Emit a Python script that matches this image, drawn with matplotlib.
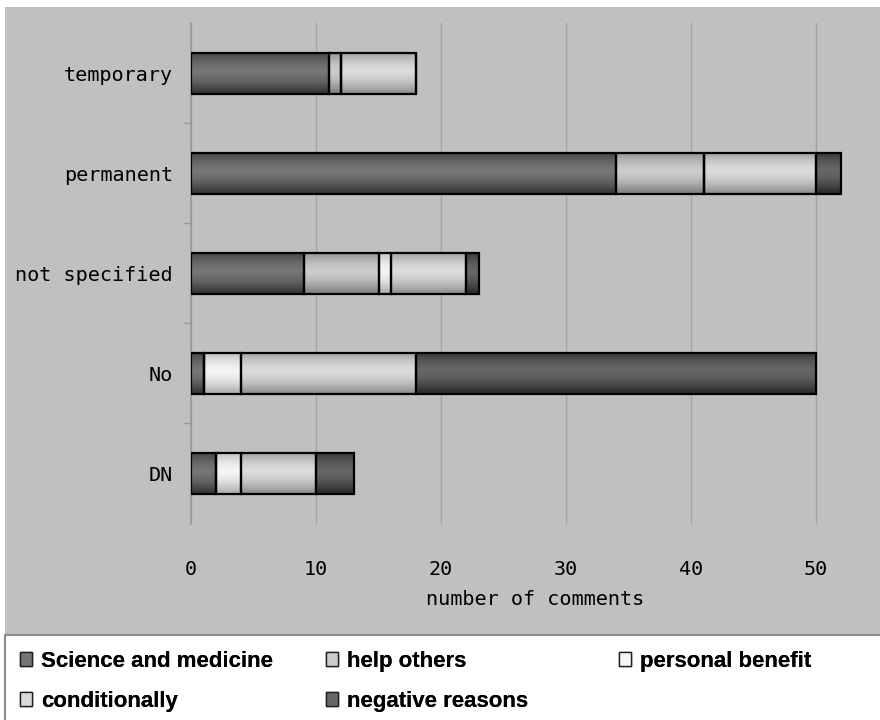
import matplotlib
matplotlib.use("Agg")
import matplotlib.pyplot as plt
import numpy as np
from matplotlib.patches import Rectangle

# categories top to bottom, counts per reason
categories = ["temporary", "permanent", "not specified", "No", "DN"]
reasons = ["Science and medicine", "help others", "personal benefit",
           "conditionally", "negative reasons"]
science = [11, 34, 9, 1, 2]
help_others = [1, 7, 6, 0, 0]
personal = [0, 0, 1, 3, 2]
conditionally = [6, 9, 6, 14, 6]
negative = [0, 2, 1, 32, 3]
series = [science, help_others, personal, conditionally, negative]
xticks = [0, 10, 20, 30, 40, 50]

# (centre shade, edge shade) for the shaded bar fills
shades = [(0.46, 0.22), (0.80, 0.52), (0.96, 0.70), (0.86, 0.58), (0.40, 0.18)]

BG = "#c0c0c0"
mono = ["DejaVu Sans Mono"]
W, H = 880, 720

fig = plt.figure(figsize=(8.8, 7.2), dpi=100)
fig.patch.set_facecolor("white")

# grey chart panel and white legend strip
fig.patches.append(Rectangle((5 / W, 85 / H), 875 / W, 628 / H,
                             transform=fig.transFigure, facecolor=BG,
                             edgecolor="none", zorder=-2))
fig.patches.append(Rectangle((5 / W, -0.01), 1.0, 85 / H + 0.01,
                             transform=fig.transFigure, facecolor="white",
                             edgecolor="#8c8c8c", linewidth=1.5, zorder=-1))

ax = fig.add_axes([191 / W, 1 - 523.5 / H, 687.5 / W, 500.5 / H])
ax.set_facecolor(BG)

y = np.arange(len(categories))
left = np.zeros(len(categories))
containers = []
for name, vals, (c_mid, c_edge) in zip(reasons, series, shades):
    bars = ax.barh(y, vals, left=left, height=0.41, color=str(c_mid),
                   edgecolor="black", linewidth=1.6, label=name, zorder=3)
    containers.append((bars, c_mid, c_edge))
    left = left + np.array(vals)

# legend columns, laid out row by row
leg_cols = [([0, 3], 20), ([1, 4], 326), ([2], 619)]
leg_font = {"family": "Liberation Sans", "weight": "bold", "size": 16}
for idx, xpix in leg_cols:
    leg = fig.legend(handles=[containers[i][0] for i in idx],
                     labels=[reasons[i] for i in idx],
                     loc="upper left", bbox_to_anchor=(xpix / W, 1 - 651 / H),
                     frameon=False, prop=leg_font,
                     handlelength=0.56, handleheight=0.56, handletextpad=0.4,
                     labelspacing=0.85, borderaxespad=0, borderpad=0)
    for h in leg.legend_handles:
        h.set_edgecolor("#202020")
        h.set_linewidth(1.0)
    fig.add_artist(leg)

# vertical shading inside each bar segment
t = np.linspace(0, 1, 64)
profile = 1 - np.abs(2 * t - 0.9) ** 1.6
for bars, c_mid, c_edge in containers:
    col = c_edge + (c_mid - c_edge) * np.clip(profile, 0, 1)
    img = np.repeat(col[:, None], 2, axis=1)
    img = np.dstack([img, img, img])
    for p in bars.patches:
        if p.get_width() <= 0:
            continue
        x0, y0 = p.get_x(), p.get_y()
        w, h = p.get_width(), p.get_height()
        im = ax.imshow(img, extent=[x0, x0 + w, y0 + h, y0], aspect="auto",
                       interpolation="bilinear", zorder=2.5)
        im.set_clip_path(p)
        p.set_facecolor("none")

ax.set_xlim(0, 55)
ax.set_ylim(len(categories) - 0.5, -0.5)
ax.set_aspect("auto")

ax.set_xticks(xticks)
ax.set_yticks(y)
ax.set_yticklabels(categories, family=mono, fontsize=14.5)
ax.set_xticklabels([str(v) for v in xticks], family=mono, fontsize=14.5)
ax.set_yticks(np.arange(0.5, len(categories) - 1, 1.0), minor=True)
ax.tick_params(axis="x", length=0, pad=26)
ax.tick_params(axis="y", which="major", length=0, pad=13)
ax.tick_params(axis="y", which="minor", length=6, color="#9a9a9a", width=1)
ax.grid(axis="x", color="#a4a4a4", linewidth=1, zorder=0)
ax.set_axisbelow(True)
for side in ["top", "right", "bottom"]:
    ax.spines[side].set_visible(False)
ax.spines["left"].set_color("#9a9a9a")
ax.spines["left"].set_linewidth(1.2)

ax.set_xlabel("number of comments", family=mono, fontsize=14.5, labelpad=8)

fig.savefig("out.png", dpi=100, facecolor=fig.get_facecolor())
